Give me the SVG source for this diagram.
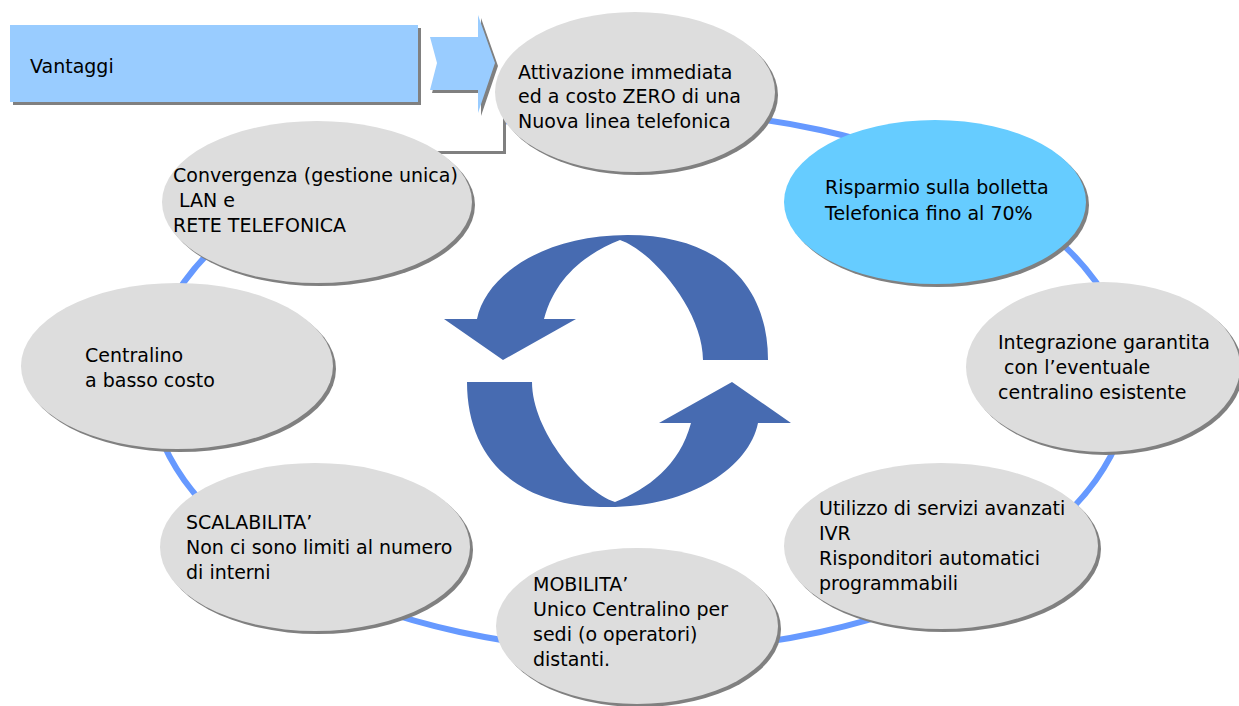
<svg xmlns="http://www.w3.org/2000/svg" width="1239" height="706" viewBox="0 0 1239 706">
<style>
.sh{fill:#808080}
.gr{fill:#dddddd}
.bl{fill:#66ccff}
.t{font-family:"DejaVu Sans","Verdana",sans-serif;font-size:19px;fill:#000}
.ring{fill:none;stroke:#6699ff;stroke-width:6}
.cyc{fill:#476bb1}
</style>
<defs>
<path id="arr" d="M150.5,-11 C150.5,-88 100,-136 10,-136 C-75,-136 -132,-95 -140.5,-52 L-173.5,-52 L-114.5,-11 L-41.5,-52 L-73.5,-52 C-62,-95 -30,-118 2.5,-131 C35,-120 85.5,-60 85.5,-11 Z"/>
</defs>
<rect width="1239" height="706" fill="#fff"/>
<g id="connectors">
<ellipse class="ring" cx="640" cy="381" rx="490" ry="270"/>
</g>
<g id="frame">
<rect x="303" y="108" width="203" height="46" class="sh"/>
<rect x="300" y="105" width="203" height="46" fill="#fff"/>
</g>
<g id="n-attivazione">
<ellipse cx="638" cy="95" rx="140" ry="80" class="sh"/>
<ellipse cx="635" cy="92" rx="140" ry="80" class="gr"/>
<text class="t"><tspan x="518" y="79">Attivazione immediata</tspan><tspan x="518" y="103">ed a costo ZERO di una</tspan><tspan x="518" y="128">Nuova linea telefonica</tspan></text>
</g>
<g id="n-risparmio">
<ellipse cx="938" cy="205" rx="151" ry="82" class="sh"/>
<ellipse cx="935" cy="202" rx="151" ry="82" class="bl"/>
<text class="t"><tspan x="825" y="194">Risparmio sulla bolletta</tspan><tspan x="825" y="220">Telefonica fino al 70%</tspan></text>
</g>
<g id="n-integrazione">
<ellipse cx="1106" cy="370" rx="137" ry="85" class="sh"/>
<ellipse cx="1103" cy="367" rx="137" ry="85" class="gr"/>
<text class="t" xml:space="preserve"><tspan x="998" y="349">Integrazione garantita</tspan><tspan x="998" y="374"> con l’eventuale</tspan><tspan x="998" y="399">centralino esistente</tspan></text>
</g>
<g id="n-utilizzo">
<ellipse cx="944" cy="549" rx="157" ry="83" class="sh"/>
<ellipse cx="941" cy="546" rx="157" ry="83" class="gr"/>
<text class="t"><tspan x="819" y="515">Utilizzo di servizi avanzati</tspan><tspan x="819" y="540">IVR</tspan><tspan x="819" y="565">Risponditori automatici</tspan><tspan x="819" y="590">programmabili</tspan></text>
</g>
<g id="n-mobilita">
<ellipse cx="640" cy="629" rx="141" ry="78" class="sh"/>
<ellipse cx="637" cy="626" rx="141" ry="78" class="gr"/>
<text class="t"><tspan x="533" y="591">MOBILITA’</tspan><tspan x="533" y="616">Unico Centralino per</tspan><tspan x="533" y="641">sedi (o operatori)</tspan><tspan x="533" y="666">distanti.</tspan></text>
</g>
<g id="n-scalabilita">
<ellipse cx="318" cy="550" rx="155" ry="84" class="sh"/>
<ellipse cx="315" cy="547" rx="155" ry="84" class="gr"/>
<text class="t"><tspan x="186" y="529">SCALABILITA’</tspan><tspan x="186" y="554">Non ci sono limiti al numero</tspan><tspan x="186" y="579">di interni</tspan></text>
</g>
<g id="n-centralino">
<ellipse cx="180" cy="369" rx="156" ry="83" class="sh"/>
<ellipse cx="177" cy="366" rx="156" ry="83" class="gr"/>
<text class="t"><tspan x="85" y="362">Centralino</tspan><tspan x="85" y="387">a basso costo</tspan></text>
</g>
<g id="n-convergenza">
<ellipse cx="320" cy="205" rx="155" ry="81" class="sh"/>
<ellipse cx="317" cy="202" rx="155" ry="81" class="gr"/>
<text class="t" xml:space="preserve"><tspan x="173" y="182">Convergenza (gestione unica)</tspan><tspan x="173" y="207"> LAN e</tspan><tspan x="173" y="232">RETE TELEFONICA</tspan></text>
</g>
<g id="n-vantaggi">
<rect x="13" y="28" width="408" height="77" class="sh"/>
<rect x="10" y="25" width="408" height="77" fill="#99ccff"/>
<text class="t" x="30" y="73">Vantaggi</text>
<polygon points="432,40 481,40 481,18 498,66 481,116 481,93 432,93 439,66" class="sh"/>
<polygon points="430,37 478,37 478,15 495,63 478,113 478,90 430,90 437,63" fill="#99ccff"/>
</g>
<g id="cycle">
<use href="#arr" class="cyc" transform="translate(617.5,371)"/>
<use href="#arr" class="cyc" transform="translate(617.5,371) rotate(180)"/>
</g>
</svg>
